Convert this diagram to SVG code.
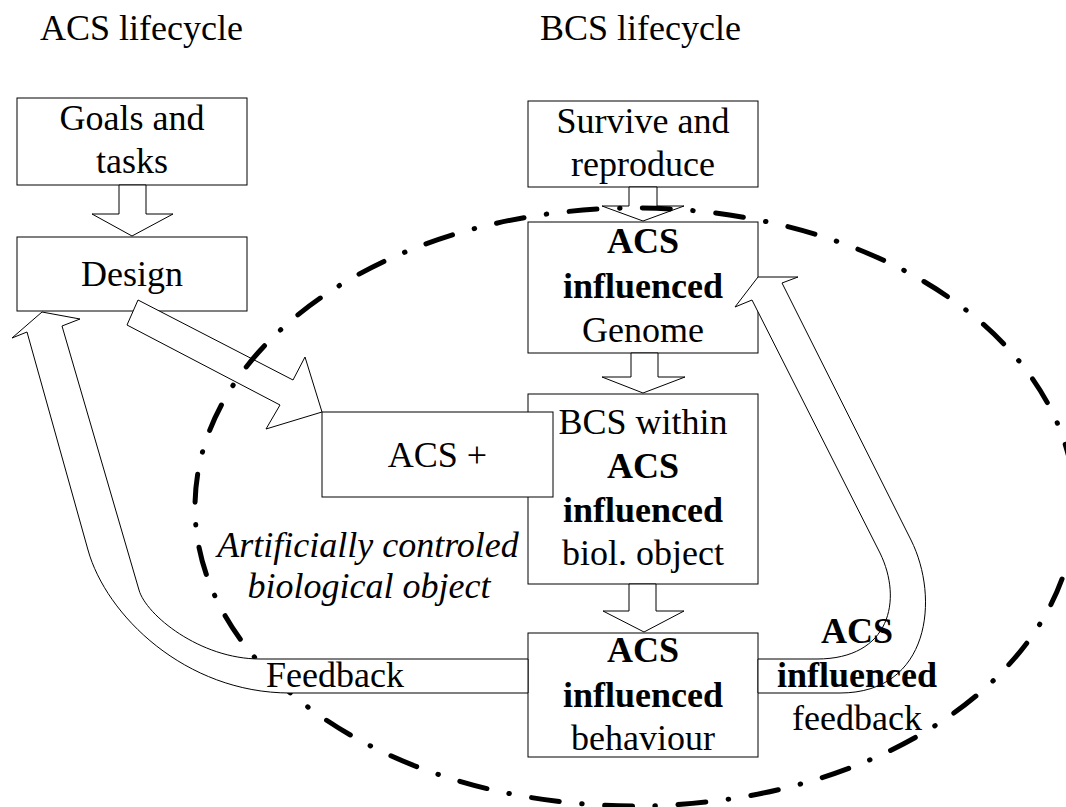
<svg xmlns="http://www.w3.org/2000/svg" width="1066" height="807" viewBox="0 0 1066 807">
<style>
  text { font-family: "Liberation Serif", "Times New Roman", serif; font-size: 36px; fill: #000; }
  .c { text-anchor: middle; }
  .b { font-weight: bold; }
  .i { font-style: italic; }
  .box { fill: #fff; stroke: #000; stroke-width: 1; }
  .arrow { fill: #fff; stroke: #000; stroke-width: 1; stroke-linejoin: miter; }
  .region { fill: none; stroke: #000; stroke-width: 5; stroke-linecap: round; stroke-dasharray: 28 22.5 0.5 22.5; }
</style>
<rect width="1066" height="807" fill="#fff"/>

<g id="titles">
  <text x="40" y="40">ACS lifecycle</text>
  <text x="540" y="40">BCS lifecycle</text>
</g>

<g id="goals">
  <rect class="box" x="17" y="98" width="230" height="87"/>
  <text class="c" x="132" y="130">Goals and</text>
  <text class="c" x="132" y="173">tasks</text>
</g>
<g id="design">
  <rect class="box" x="17" y="237" width="230" height="74"/>
  <text class="c" x="132" y="286">Design</text>
</g>
<g id="survive">
  <rect class="box" x="528" y="101" width="230" height="86"/>
  <text class="c" x="643" y="133">Survive and</text>
  <text class="c" x="643" y="176">reproduce</text>
</g>
<g id="genome">
  <rect class="box" x="528" y="222" width="230" height="131"/>
  <text class="c b" x="643" y="253">ACS</text>
  <text class="c b" x="643" y="298">influenced</text>
  <text class="c" x="643" y="342">Genome</text>
</g>
<g id="bcs">
  <rect class="box" x="528" y="394" width="230" height="190"/>
  <text class="c" x="643" y="434">BCS within</text>
  <text class="c b" x="643" y="478">ACS</text>
  <text class="c b" x="643" y="522">influenced</text>
  <text class="c" x="643" y="565">biol. object</text>
</g>
<g id="acsplus">
  <rect class="box" x="322" y="412" width="231" height="85"/>
  <text class="c" x="437.5" y="467">ACS +</text>
</g>
<g id="behaviour">
  <rect class="box" x="528" y="633" width="230" height="124"/>
  <text class="c b" x="643" y="662">ACS</text>
  <text class="c b" x="643" y="707">influenced</text>
  <text class="c" x="643" y="750">behaviour</text>
</g>

<g id="connectors">
  <polygon class="arrow" points="119,185 119,214 92,214 132,236 173,214 146,214 146,185"/>
  <polygon class="arrow" points="629,187 629,206 602,206 643,221 684,206 657,206 657,187"/>
  <polygon class="arrow" points="631,353 631,377 602,377 643,393 685,377 658,377 658,353"/>
  <polygon class="arrow" points="629,584 629,611 603,611 644,632 684,611 656,611 656,584"/>
  <polygon class="arrow" points="138,300 293,380 305,357 322,412 266,429 280,405 127,325"/>
  <path class="arrow" d="M758,659 L817,659 C890,659 903,600 880,553 L752,300 L735,307 L758,277 L798,277 L782,283 L911,540 C940,598 930,693 840,693 L758,693 Z"/>
  <text class="c b" x="857" y="643">ACS</text>
  <text class="c b" x="857" y="687">influenced</text>
  <text class="c" x="857" y="730">feedback</text>
</g>

<g id="acbo-region">
  <ellipse class="region" cx="635" cy="507" rx="440" ry="299"/>
  <text class="c i" x="368" y="557">Artificially controled</text>
  <text class="c i" x="369" y="598">biological object</text>
</g>

<g id="connector-feedback">
  <path class="arrow" d="M528,659 L260,659 C200,659 146,615 139,590 L62,326 L80,319 L42,312 L12,338 L27,332 L88,550 C106,615 185,693 290,693 L528,693 Z"/>
  <text x="266" y="687">Feedback</text>
</g>
</svg>
